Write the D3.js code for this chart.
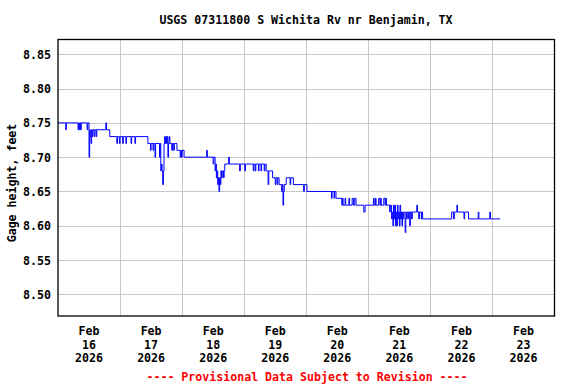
<!DOCTYPE html>
<html>
<head>
<meta charset="utf-8">
<script src="https://cdn.jsdelivr.net/npm/d3@7"></script>
<style>
  body { margin: 0; background: #fff; }
  svg { display: block; }
  text { font-family: "DejaVu Sans Mono", "Liberation Mono", monospace; font-weight: bold; font-size: 11.6px; }
</style>
</head>
<body>
<svg width="576" height="384"></svg>
<script>
// readings: [hours since Feb 16 2026 00:00, gage height ft]
var readings = [
  [0, 8.75],
  [3.0, 8.74], [3.25, 8.75],
  [7.75, 8.74], [8.0, 8.75], [8.25, 8.74], [8.5, 8.75], [8.75, 8.74], [9.0, 8.75],
  [11.25, 8.74], [11.5, 8.75],
  [12.0, 8.70], [12.25, 8.74],
  [12.5, 8.73], [12.75, 8.72], [13.0, 8.74], [13.25, 8.73], [13.5, 8.74], [14.0, 8.73], [14.25, 8.74],
  [14.75, 8.73], [15.0, 8.74],
  [18.5, 8.75], [18.75, 8.74],
  [20.0, 8.73],
  [22.75, 8.72], [23.0, 8.73],
  [23.75, 8.72], [24.0, 8.73],
  [25.0, 8.72], [25.25, 8.73],
  [26.25, 8.72], [26.5, 8.73],
  [28.25, 8.72], [28.5, 8.73],
  [29.75, 8.72], [30.0, 8.73],
  [34.75, 8.72],
  [35.75, 8.71], [36.0, 8.72],
  [36.75, 8.71], [37.0, 8.72],
  [37.5, 8.70], [37.75, 8.72],
  [39.25, 8.70], [39.5, 8.72],
  [39.75, 8.68], [40.0, 8.69], [40.25, 8.68],
  [40.5, 8.66], [40.75, 8.68], [41.0, 8.72],
  [41.25, 8.73], [41.5, 8.72], [41.75, 8.73], [42.0, 8.72], [42.25, 8.73],
  [42.5, 8.70], [42.75, 8.72], [43.0, 8.73], [43.25, 8.72],
  [44.0, 8.71], [44.25, 8.72],
  [44.75, 8.71], [45.0, 8.72],
  [46.0, 8.71],
  [47.25, 8.70], [47.5, 8.71],
  [47.75, 8.70], [48.0, 8.71],
  [48.75, 8.70],
  [57.5, 8.71], [57.75, 8.70],
  [60.0, 8.69], [60.25, 8.70],
  [60.75, 8.68], [61.0, 8.69], [61.25, 8.67], [61.5, 8.68], [61.75, 8.66], [62.0, 8.67],
  [62.25, 8.65], [62.5, 8.67], [62.75, 8.66], [63.0, 8.68], [63.25, 8.67], [63.5, 8.68],
  [64.0, 8.67], [64.25, 8.68],
  [64.5, 8.69],
  [66.0, 8.70], [66.25, 8.69],
  [70.25, 8.68], [70.5, 8.69],
  [72.25, 8.68], [72.5, 8.69],
  [75.5, 8.68], [75.75, 8.69],
  [76.25, 8.68], [76.5, 8.69],
  [77.5, 8.68], [77.75, 8.69],
  [78.5, 8.68], [78.75, 8.69],
  [79.75, 8.68], [80.0, 8.69],
  [80.5, 8.68],
  [81.25, 8.66], [81.5, 8.68],
  [83.0, 8.67],
  [84.0, 8.66], [84.25, 8.67],
  [84.75, 8.66], [85.0, 8.67],
  [85.5, 8.66],
  [86.5, 8.65], [86.75, 8.66],
  [87.0, 8.63], [87.25, 8.65], [87.5, 8.66],
  [88.25, 8.67],
  [89.75, 8.66], [90.0, 8.67],
  [91.0, 8.66],
  [95.0, 8.65], [95.25, 8.66],
  [96.25, 8.65],
  [105.75, 8.64], [106.0, 8.65],
  [106.75, 8.64], [107.0, 8.65],
  [107.5, 8.64],
  [109.75, 8.63], [110.0, 8.64], [110.25, 8.63],
  [111.0, 8.64], [111.25, 8.63],
  [112.5, 8.64], [112.75, 8.63],
  [113.75, 8.64], [114.25, 8.63],
  [114.75, 8.64], [115.25, 8.63],
  [118.25, 8.62], [118.75, 8.63],
  [122.0, 8.64], [122.25, 8.63],
  [122.75, 8.64], [123.0, 8.63],
  [124.0, 8.64], [124.5, 8.63], [124.75, 8.64], [125.0, 8.63],
  [126.0, 8.64], [126.5, 8.63], [126.75, 8.64], [127.0, 8.63],
  [128.25, 8.62], [128.5, 8.63],
  [129.0, 8.61], [129.25, 8.62],
  [129.5, 8.60], [129.75, 8.63], [130.0, 8.61], [130.25, 8.63], [130.5, 8.60], [130.75, 8.62],
  [131.0, 8.60], [131.25, 8.63], [131.5, 8.61], [131.75, 8.62], [132.0, 8.60], [132.25, 8.63],
  [132.5, 8.61], [132.75, 8.62], [133.0, 8.60], [133.25, 8.62], [133.5, 8.61], [133.75, 8.62],
  [134.25, 8.59], [134.5, 8.61],
  [134.75, 8.62],
  [135.25, 8.61], [135.5, 8.62],
  [136.0, 8.60], [136.25, 8.62],
  [136.75, 8.61], [137.0, 8.62],
  [138.75, 8.63], [139.0, 8.62],
  [139.5, 8.61], [139.75, 8.62],
  [140.5, 8.61], [140.75, 8.62], [141.0, 8.61],
  [152.25, 8.62],
  [153.0, 8.61], [153.25, 8.62],
  [154.25, 8.63], [154.5, 8.62],
  [157.0, 8.61], [157.25, 8.62],
  [158.75, 8.61],
  [162.5, 8.62], [162.75, 8.61],
  [167.0, 8.62], [167.25, 8.61],
  [171.0, 8.61]
];

var yTicks = [8.50, 8.55, 8.60, 8.65, 8.70, 8.75, 8.80, 8.85];
var dayLabels = ["16", "17", "18", "19", "20", "21", "22", "23"];
var titleText = "USGS 07311800 S Wichita Rv nr Benjamin, TX";
var yLabel = "Gage height, feet";
var footerText = "---- Provisional Data Subject to Revision ----";

var svg = d3.select("svg");
var plotL = 58, plotR = 554.5, plotT = 39.5, plotB = 316;

var start = new Date(2026, 1, 16);
var toDate = function(h){ return new Date(start.getTime() + h * 3600000); };

var x = d3.scaleTime()
  .domain([start, new Date(2026, 1, 24)])
  .range([plotL, plotR]);
var y = d3.scaleLinear()
  .domain([8.4684, 8.8716])
  .range([plotB, plotT]);

// grid lines
var days = d3.timeDay.range(new Date(2026, 1, 17), new Date(2026, 1, 24));
svg.append("g").selectAll("line").data(days).join("line")
  .attr("x1", d => Math.round(x(d)) + 0.5).attr("x2", d => Math.round(x(d)) + 0.5)
  .attr("y1", plotT).attr("y2", plotB)
  .attr("stroke", "#c8c8c8").attr("stroke-width", 1);
svg.append("g").selectAll("line").data(yTicks).join("line")
  .attr("x1", plotL).attr("x2", plotR)
  .attr("y1", d => Math.round(y(d)) + 0.5).attr("y2", d => Math.round(y(d)) + 0.5)
  .attr("stroke", "#c8c8c8").attr("stroke-width", 1);

// data line
var line = d3.line()
  .x(d => x(toDate(d[0])))
  .y(d => y(d[1]))
  .curve(d3.curveStepAfter);
svg.append("path")
  .datum(readings)
  .attr("d", line)
  .attr("fill", "none")
  .attr("stroke", "#0000ff")
  .attr("stroke-width", 1);

// frame
svg.append("rect")
  .attr("x", plotL).attr("y", plotT)
  .attr("width", plotR - plotL).attr("height", plotB - plotT)
  .attr("fill", "none").attr("stroke", "#000").attr("stroke-width", 1.3);

// y tick labels
svg.append("g").selectAll("text").data(yTicks).join("text")
  .attr("x", 51).attr("y", d => y(d) + 4.5)
  .attr("text-anchor", "end")
  .text(d => d3.format(".2f")(d));

// x labels at noon of each day
var xl = svg.append("g").selectAll("text").data(dayLabels).join("text")
  .attr("text-anchor", "middle")
  .attr("transform", (d, i) => "translate(" + x(new Date(2026, 1, 16 + i, 12)) + ",0)");
xl.append("tspan").attr("x", 0).attr("y", 335).text("Feb");
xl.append("tspan").attr("x", 0).attr("y", 348.5).text(d => d);
xl.append("tspan").attr("x", 0).attr("y", 362).text("2026");

svg.append("text")
  .attr("x", 306).attr("y", 24)
  .attr("text-anchor", "middle")
  .text(titleText);

svg.append("text")
  .attr("transform", "translate(16,183) rotate(-90)")
  .attr("text-anchor", "middle")
  .text(yLabel);

svg.append("text")
  .attr("x", 307).attr("y", 381)
  .attr("text-anchor", "middle")
  .attr("fill", "#ff0000")
  .text(footerText);
</script>
</body>
</html>
